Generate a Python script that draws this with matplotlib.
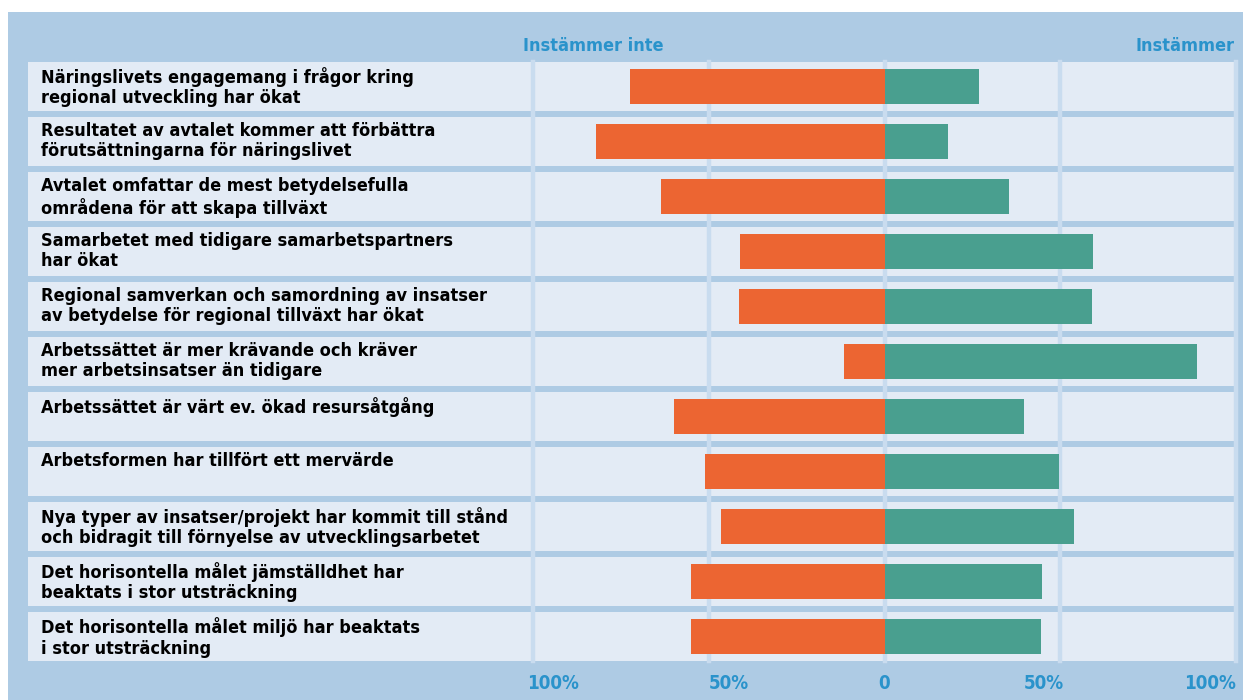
import matplotlib
matplotlib.use("Agg")
import matplotlib.pyplot as plt
from matplotlib.patches import Rectangle
import matplotlib.transforms as mtransforms

# statements (top to bottom)
statements = [
    "Näringslivets engagemang i frågor kring\nregional utveckling har ökat",
    "Resultatet av avtalet kommer att förbättra\nförutsättningarna för näringslivet",
    "Avtalet omfattar de mest betydelsefulla\nområdena för att skapa tillväxt",
    "Samarbetet med tidigare samarbetspartners\nhar ökat",
    "Regional samverkan och samordning av insatser\nav betydelse för regional tillväxt har ökat",
    "Arbetssättet är mer krävande och kräver\nmer arbetsinsatser än tidigare",
    "Arbetssättet är värt ev. ökad resursåtgång",
    "Arbetsformen har tillfört ett mervärde",
    "Nya typer av insatser/projekt har kommit till stånd\noch bidragit till förnyelse av utvecklingsarbetet",
    "Det horisontella målet jämställdhet har\nbeaktats i stor utsträckning",
    "Det horisontella målet miljö har beaktats\ni stor utsträckning",
]
# percent
instammer_inte = [72.5, 82, 63.5, 41, 41.5, 11.5, 60, 51, 46.5, 55, 55]
instammer = [26.8, 18, 35.3, 59.2, 59, 89, 39.6, 49.5, 53.8, 44.7, 44.5]

ticks = [-100, -50, 0, 50, 100]
tick_labels = ["100%", "50%", "0", "50%", "100%"]

BG = "#aecbe4"
ROW = "#e3ebf5"
GRID = "#c9dcef"
ORANGE = "#ec6532"
TEAL = "#499f8f"
BLUE = "#2a93cb"
FONT = dict(family="DejaVu Sans", fontstretch="condensed", fontweight="bold")

W, H = 1243, 700
fig = plt.figure(figsize=(W / 100, H / 100), dpi=100)
fig.patch.set_facecolor("white")
fig.patches.append(Rectangle((8 / W, 0), 1, 1 - 12 / H, transform=fig.transFigure,
                             facecolor=BG, edgecolor="none", zorder=-10))

# axes spanning the row area
ax = fig.add_axes([28 / W, 39 / H, 1208 / W, 599 / H])
ax.set_facecolor("none")
n = len(statements)
ax.set_xlim(-243.7, 100)
ax.set_ylim(n - 1 + 0.445, -0.445)
ax.axis("off")

for i in range(n):
    ax.axhspan(i - 0.445, i + 0.445, color=ROW, zorder=1, lw=0)
    ax.text(-240, i - 0.445 + 0.09, statements[i], ha="left", va="top",
            fontsize=13, color="black", linespacing=1.18, zorder=5, **FONT)

for t in ticks:
    ax.axvline(t, color=GRID, lw=3.2, zorder=2, clip_on=False)

y = list(range(n))
ax.barh(y, [-v for v in instammer_inte], height=0.64, color=ORANGE, zorder=3)
ax.barh(y, instammer, height=0.64, color=TEAL, zorder=3)

# bottom labels, nudged inward like the original
label_x = [-94.4, -44.3, 0, 45.3, 92.7]
trans = mtransforms.blended_transform_factory(ax.transData, ax.transAxes)
for x, lab in zip(label_x, tick_labels):
    ax.text(x, -0.038, lab, transform=trans, ha="center", va="center",
            fontsize=13.5, color=BLUE, **FONT)

# headers
ax.text(-82.8, 1.027, "Instämmer inte", transform=trans, ha="center", va="center",
        fontsize=13, color=BLUE, **FONT)
ax.text(99.5, 1.027, "Instämmer", transform=trans, ha="right", va="center",
        fontsize=13, color=BLUE, **FONT)

fig.savefig("out.png", dpi=100)
